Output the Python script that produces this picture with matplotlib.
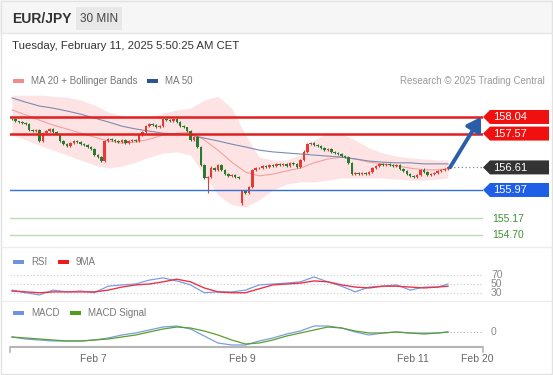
import numpy as np
import matplotlib
matplotlib.use("Agg")
import matplotlib.pyplot as plt
from matplotlib.patches import Polygon, Rectangle

plt.rcParams['font.family'] = ['Liberation Sans', 'DejaVu Sans']

## EUR/JPY 30 min candles (closes)
closes = [157.98, 157.92, 157.90, 157.87, 157.84, 157.67, 157.64, 157.67, 157.36, 157.58, 157.64, 157.70, 157.61, 157.56, 157.36, 157.27,
          157.22, 157.30, 157.36, 157.33, 157.27, 157.24, 157.19, 157.13, 156.96, 156.90, 156.79, 157.36, 157.41, 157.39, 157.36, 157.33,
          157.39, 157.30, 157.36, 157.39, 157.36, 157.53, 157.61, 157.78, 157.84, 157.81, 157.75, 157.78, 157.98, 157.95, 157.92, 157.98,
          157.90, 157.78, 157.75, 157.64, 157.39, 157.47, 157.19, 156.68, 156.31, 156.34, 156.59, 156.54, 156.68, 156.54, 156.42, 156.37,
          156.39, 156.34, 156.31, 155.94, 155.89, 156.05, 156.54, 156.59, 156.59, 156.65, 156.62, 156.68, 156.65, 156.71, 156.68, 156.71,
          156.65, 156.74, 156.71, 156.62, 156.82, 157.05, 157.27, 157.30, 157.24, 157.22, 157.16, 157.10, 157.13, 157.05, 157.02, 156.99,
          156.93, 156.90, 156.74, 156.42, 156.45, 156.42, 156.45, 156.42, 156.48, 156.59, 156.65, 156.71, 156.68, 156.71, 156.68, 156.65,
          156.68, 156.57, 156.51, 156.42, 156.37, 156.34, 156.39, 156.54, 156.48, 156.39, 156.42, 156.45, 156.51, 156.54, 156.57, 156.61]
first_open = 157.99
gap_idx = 67          # weekend gap
gap_open = 155.60

## wick lengths in pips
hi_wick = [2, 3, 2, 2, 3, 2, 3, 2, 4, 2, 3, 2, 2, 3, 2, 3,
           2, 3, 2, 2, 3, 2, 2, 3, 2, 3, 2, 4, 3, 2, 3, 2,
           2, 3, 2, 2, 3, 2, 3, 2, 3, 2, 2, 3, 4, 3, 2, 3,
           2, 3, 2, 2, 4, 3, 2, 3, 2, 3, 5, 3, 2, 3, 2, 2,
           3, 2, 2, 3, 3, 4, 3, 2, 3, 2, 3, 2, 3, 2, 2, 3,
           2, 3, 2, 3, 3, 4, 3, 2, 3, 2, 2, 3, 2, 3, 2, 2,
           3, 2, 2, 3, 2, 3, 2, 3, 2, 2, 3, 2, 3, 2, 2, 3,
           2, 2, 3, 2, 3, 2, 3, 2, 4, 2, 3, 2, 2, 3, 2, 2]
lo_wick = [3, 2, 3, 2, 2, 3, 2, 3, 2, 3, 2, 2, 3, 2, 3, 2,
           3, 2, 2, 3, 2, 3, 2, 2, 3, 2, 4, 3, 2, 3, 2, 2,
           3, 2, 3, 2, 2, 3, 2, 2, 3, 2, 3, 2, 2, 3, 2, 2,
           3, 2, 3, 2, 3, 2, 4, 3, 2, 42, 3, 2, 3, 2, 3, 2,
           2, 3, 2, 5, 3, 4, 2, 3, 2, 2, 3, 2, 3, 2, 2, 3,
           2, 2, 3, 2, 3, 2, 2, 3, 2, 3, 2, 2, 3, 2, 3, 2,
           2, 3, 3, 2, 3, 2, 3, 2, 2, 3, 2, 3, 2, 2, 3, 2,
           3, 2, 2, 3, 2, 3, 2, 3, 2, 2, 3, 2, 3, 2, 2, 2]

## indicators sampled every 4 bars
ind_idx = [0, 4, 8, 12, 16, 20, 24, 28, 32, 36, 40, 44, 48, 52, 56, 60, 64, 68, 72, 76, 80, 84, 88, 92, 96, 100, 104, 108, 112, 116, 120, 124, 127]
bb_upper = [158.66, 158.66, 158.66, 158.63, 158.60, 158.52, 158.38, 158.18, 158.07, 158.01, 158.04, 158.15, 158.24, 158.29, 158.52, 158.63, 158.29,
            157.53, 156.90, 156.82, 156.82, 156.96, 157.39, 157.58, 157.56, 157.39, 157.16, 157.02, 156.93, 156.88, 156.85, 156.82, 156.82]
bb_lower = [157.53, 157.39, 157.24, 157.10, 156.96, 156.82, 156.68, 156.59, 156.65, 156.76, 156.90, 157.02, 157.05, 156.96, 156.39, 155.83, 155.55,
            155.49, 155.69, 155.97, 156.14, 156.20, 156.20, 156.25, 156.31, 156.31, 156.31, 156.31, 156.28, 156.25, 156.25, 156.28, 156.31]
ma20 = [158.24, 158.10, 157.95, 157.81, 157.70, 157.58, 157.47, 157.36, 157.30, 157.33, 157.41, 157.53, 157.58, 157.61, 157.39, 157.10, 156.76,
        156.48, 156.37, 156.42, 156.51, 156.59, 156.74, 156.85, 156.90, 156.85, 156.76, 156.71, 156.65, 156.59, 156.54, 156.54, 156.57]
ma50 = [158.58, 158.46, 158.35, 158.29, 158.21, 158.12, 158.01, 157.90, 157.78, 157.70, 157.64, 157.58, 157.56, 157.53, 157.44, 157.36, 157.27,
        157.19, 157.10, 157.05, 157.02, 156.99, 156.96, 156.93, 156.90, 156.85, 156.79, 156.76, 156.74, 156.74, 156.71, 156.71, 156.71]
rsi = [36, 30, 25, 36, 32, 34, 30, 45, 48, 50, 59, 64, 57, 48, 30, 32, 32, 36, 48, 50, 52, 55, 66, 55, 45, 32, 43, 45, 48, 36, 43, 43, 50]
rsi_ma = [34, 32, 30, 32, 32, 32, 32, 36, 43, 48, 50, 55, 61, 55, 41, 32, 30, 30, 39, 48, 50, 52, 57, 55, 48, 43, 41, 45, 45, 43, 41, 43, 45]
macd = [-0.060, -0.084, -0.096, -0.108, -0.108, -0.108, -0.096, -0.072, -0.036, -0.012, 0.024, 0.060, 0.072, 0.036, -0.048, -0.132, -0.156,
        -0.156, -0.108, -0.072, -0.024, 0.012, 0.072, 0.072, 0.048, 0.000, -0.036, -0.012, 0.000, -0.012, -0.012, -0.012, 0.000]
macd_sig = [-0.060, -0.072, -0.084, -0.096, -0.108, -0.108, -0.096, -0.084, -0.060, -0.036, 0.000, 0.036, 0.060, 0.048, 0.012, -0.036, -0.096,
            -0.144, -0.132, -0.096, -0.048, -0.012, 0.024, 0.060, 0.048, 0.012, -0.012, -0.012, 0.000, -0.012, -0.024, -0.012, 0.000]

## key levels
res_levels = [158.04, 157.57]
last_price = 156.61
sup_level = 155.97
green_levels = [155.17, 154.70]
rsi_levels = [70, 50, 30]

tick_pos = [23.6, 67.0, 116.8, 135.4]
tick_lbl = ["Feb 7", "Feb 9", "Feb 11", "Feb 20"]

W, H = 553, 375
X0, X1 = 10, 483
xlim = (-0.58, 137.2)

fig = plt.figure(figsize=(W / 100, H / 100), dpi=100)
fig.patch.set_facecolor("white")

def frac(y_top, y_bot):
    return [X0 / W, 1 - y_bot / H, (X1 - X0) / W, (y_bot - y_top) / H]

# background pieces in pixel coords
bg = fig.add_axes([0, 0, 1, 1], zorder=0)
bg.set_xlim(0, W); bg.set_ylim(H, 0); bg.axis("off")
bg.add_patch(Rectangle((0, 0), W, 33, color="#f6f6f6", lw=0))
bg.add_patch(Rectangle((76, 7), 46, 23, color="#e8e8e8", lw=0))
bg.add_patch(Rectangle((1, 1), W - 2, H - 2, fill=False, ec="#e2e2e2", lw=1))
bg.plot([1, W - 1], [33, 33], color="#e6e6e6", lw=1)
for yy in [247, 301]:
    bg.plot([2, W - 2], [yy, yy], color="#ededed", lw=1)

## price panel
ax = fig.add_axes(frac(93, 245), zorder=1)
ax.set_facecolor("none")
ax.set_xlim(*xlim); ax.set_ylim(154.41, 158.72); ax.axis("off")

ax.fill_between(ind_idx, bb_lower, bb_upper, color="#fde3e3", lw=0, zorder=1)
ax.plot(ind_idx, ma20, color="#f3a0a0", lw=0.8, zorder=2)
ax.plot(ind_idx, ma50, color="#7d8bb0", lw=0.8, zorder=2)

opens = [first_open] + closes[:-1]
opens[gap_idx] = gap_open
o = np.array(opens); c = np.array(closes)
hi = np.maximum(o, c) + np.array(hi_wick) * 0.01
lo = np.minimum(o, c) - np.array(lo_wick) * 0.01
idx = np.arange(len(closes))
cols = np.where(c >= o, "#e63a34", "#2b7a2e")
body_h = np.maximum(np.abs(c - o), 0.014)
ax.vlines(idx, lo, hi, color=cols, lw=0.8, zorder=3)
ax.bar(idx, body_h, bottom=np.minimum(o, c), width=0.74, color=cols, lw=0, zorder=4)

for lv in res_levels:
    ax.axhline(lv, color="#e02020", lw=1.8, zorder=5)
ax.axhline(sup_level, color="#3a6fd8", lw=1.0, zorder=5)
for lv in green_levels:
    ax.axhline(lv, color="#b9dcb2", lw=1.0, zorder=5)
ax.plot([idx[-1] + 0.6, xlim[1]], [last_price, last_price], color="#888888", lw=0.9, ls=(0, (1, 2)), zorder=5)
ax.annotate("", xy=(136.6, res_levels[0]), xytext=(idx[-1] + 0.6, last_price),
            arrowprops=dict(arrowstyle="-|>,head_length=0.8,head_width=0.5", lw=2.8, color="#2b5ea8",
                            shrinkA=0, shrinkB=0), zorder=6)

## RSI panel
ax_rsi = fig.add_axes(frac(268, 298), zorder=1)
ax_rsi.set_facecolor("none")
ax_rsi.set_xlim(*xlim); ax_rsi.set_ylim(18, 86.6); ax_rsi.axis("off")
for lv in rsi_levels:
    ax_rsi.axhline(lv, color="#c9c9c9", lw=0.8, ls=(0, (1, 2)))
ax_rsi.plot(ind_idx, rsi, color="#7c9de0", lw=0.9)
ax_rsi.plot(ind_idx, rsi_ma, color="#e8344a", lw=1.0)

## MACD panel
ax_m = fig.add_axes(frac(318, 347), zorder=1)
ax_m.set_facecolor("none")
ax_m.set_xlim(*xlim); ax_m.set_ylim(-0.18, 0.168); ax_m.axis("off")
ax_m.plot([idx[-1] + 0.6, xlim[1]], [0, 0], color="#b0b0b0", lw=0.8, ls=(0, (1, 2)))
ax_m.plot(ind_idx, macd, color="#7c9de0", lw=0.9)
ax_m.plot(ind_idx, macd_sig, color="#5a9e2e", lw=0.9)

## overlay: labels, legends, axis
deco = fig.add_axes([0, 0, 1, 1], zorder=10)
deco.set_xlim(0, W); deco.set_ylim(H, 0); deco.axis("off")

def py(a, v):
    return H - a.transData.transform((0, v))[1]

def px(a, v):
    return a.transData.transform((v, 0))[0]

def tag(y, s, col):
    deco.add_patch(Polygon([(483, y), (490, y - 7), (549, y - 7), (549, y + 7), (490, y + 7)],
                           closed=True, color=col, lw=0))
    deco.text(493, y + 0.5, s, color="white", fontsize=8, va="center", ha="left")

tag(py(ax, res_levels[0]), "%.2f" % res_levels[0], "#f01010")
tag(py(ax, res_levels[1]), "%.2f" % res_levels[1], "#f01010")
tag(py(ax, last_price), "%.2f" % last_price, "#333333")
tag(py(ax, sup_level), "%.2f" % sup_level, "#1f5fe8")
for lv in green_levels:
    deco.text(492, py(ax, lv) + 0.5, "%.2f" % lv, color="#3f8f3a", fontsize=7.5, va="center")
for lv in rsi_levels:
    deco.text(491, py(ax_rsi, lv), str(lv), color="#888888", fontsize=7.5, va="center")
deco.text(491, py(ax_m, 0), "0", color="#888888", fontsize=7.5, va="center")

deco.text(12, 19, "EUR/JPY", fontsize=10, fontweight="bold", color="#333333", va="center")
deco.text(99, 19, "30 MIN", fontsize=8.5, color="#444444", va="center", ha="center")
deco.text(12, 46, "Tuesday, February 11, 2025 5:50:25 AM CET", fontsize=8.2, color="#333333", va="center")

def legend_item(x, y, col, s):
    deco.add_patch(Rectangle((x, y - 2), 11, 4, color=col, lw=0))
    deco.text(x + 18, y, s, fontsize=7, color="#777777", va="center")

legend_item(13, 81, "#f28b8b", "MA 20 + Bollinger Bands")
legend_item(147, 81, "#2d5596", "MA 50")
deco.text(545, 81, "Research \u00a9 2025 Trading Central", fontsize=7, color="#9a9a9a", va="center", ha="right")
legend_item(13, 262, "#6f93e0", "RSI")
legend_item(58, 262, "#ee1c1c", "9MA")
legend_item(13, 313, "#6f93e0", "MACD")
legend_item(70, 313, "#4f9e18", "MACD Signal")

deco.plot([X0, X1], [347, 347], color="#b5b5b5", lw=1.5, solid_capstyle="butt")
deco.plot([X0, X0], [347, 352], color="#b5b5b5", lw=1.2)
deco.plot([X1, X1], [347, 352], color="#b5b5b5", lw=1.2)
for p, s in zip(tick_pos, tick_lbl):
    deco.text(px(ax, p), 359, s, fontsize=7.5, color="#666666", ha="center", va="center")

fig.savefig("out.png", dpi=100)
